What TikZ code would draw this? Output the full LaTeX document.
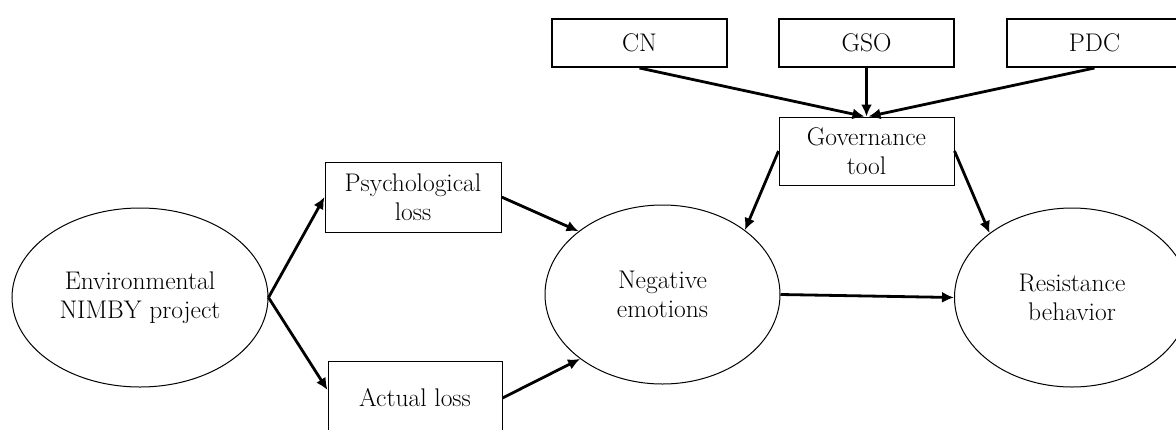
\documentclass[tikz,border=0pt]{standalone}
\usetikzlibrary{shapes.geometric,arrows.meta}
\begin{document}
\begin{tikzpicture}[x=1pt,y=-1pt,
  every node/.style={font=\fontsize{25.5}{29}\selectfont, align=center, inner sep=0pt},
  topbox/.style={draw, line width=2pt, minimum width=175pt, minimum height=48pt},
  midbox/.style={draw, line width=1pt, minimum width=175pt, minimum height=69pt},
  oval/.style={draw, ellipse, line width=1pt, minimum width=235pt, minimum height=179pt},
  arr/.style={line width=2.8pt, -{Latex[length=12pt,width=11pt]}}
]
\useasboundingbox (0,0) rectangle (1176,429);
\clip (0,0) rectangle (1176,429);
\fill[white] (0,0) rectangle (1176,429);

\node[topbox] (cn)  at (639.5,43) {CN};
\node[topbox] (gso) at (866.5,43) {GSO};
\node[topbox] (pdc) at (1094.5,43) {PDC};
\node[midbox, minimum height=68pt] (gov) at (866.5,151) {Governance\\tool};

\node[oval, minimum width=256pt] (env) at (140,297.5) {Environmental\\NIMBY project};
\node[midbox, minimum width=176pt, minimum height=70pt] (psy) at (413,197) {Psychological\\loss};
\node[midbox, minimum width=174pt, minimum height=74pt] (act) at (415,398) {Actual loss};
\node[oval] (neg) at (662.5,294.5) {Negative\\emotions};
\node[oval] (res) at (1072,297.5) {Resistance\\behavior};

\draw[arr] (env.east) -- (psy.west);
\draw[arr] (env.east) -- ([yshift=8pt]act.west);
\draw[arr] (psy.east) -- (neg.143);
\draw[arr] (act.east) -- (neg.218);
\draw[arr] (cn.south) -- ([xshift=-2pt]gov.north);
\draw[arr] (gso.south) -- (gov.north);
\draw[arr] (pdc.south) -- ([xshift=2pt]gov.north);
\draw[arr] (gov.west) -- (neg.38);
\draw[arr] (gov.east) -- (res.142);
\draw[arr] (neg.east) -- (res.west);
\end{tikzpicture}
\end{document}
